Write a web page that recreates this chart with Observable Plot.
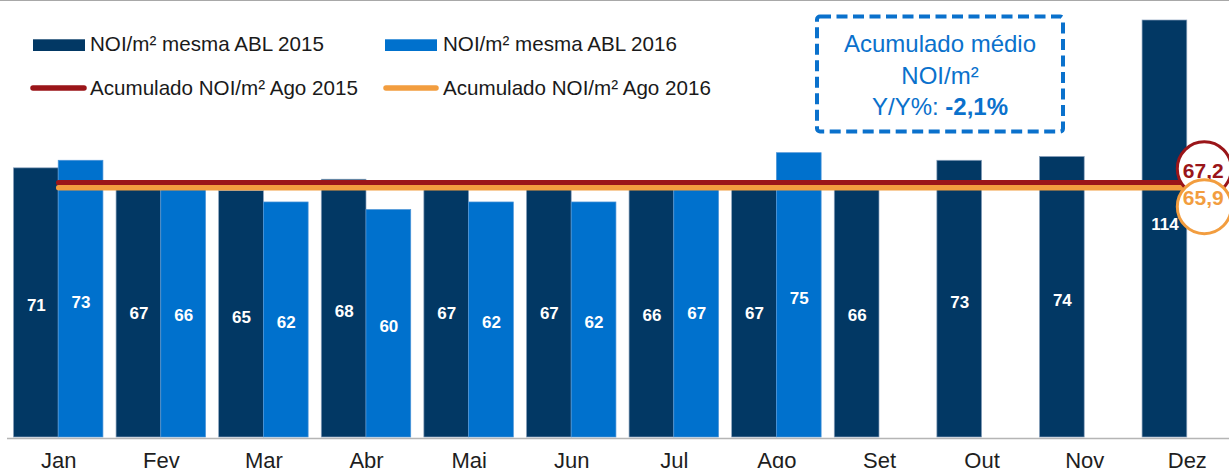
<!DOCTYPE html>
<html>
<head>
<meta charset="utf-8">
<script src="https://cdn.jsdelivr.net/npm/d3@7"></script>
<script src="https://cdn.jsdelivr.net/npm/@observablehq/plot@0.6"></script>
<style>
  html, body { margin: 0; padding: 0; background: #fff; overflow: hidden; }
  #wrap { position: relative; width: 1229px; height: 468px; overflow: hidden;
          font-family: "Liberation Sans", Arial, Helvetica, sans-serif; }
  #topline { position: absolute; left: 0; top: 0; width: 1229px; height: 1px; background: #a8a8a8; }
  #overlay { position: absolute; left: 0; top: 0; pointer-events: none; }
</style>
</head>
<body>
<div id="wrap"><div id="topline"></div></div>
<script>
// ---- data ----
const months = ["Jan","Fev","Mar","Abr","Mai","Jun","Jul","Ago","Set","Out","Nov","Dez"];
const noi2015 = [71, 67, 65, 68, 67, 67, 66, 67, 66, 73, 74, 114];
const noi2016 = [73, 66, 62, 60, 62, 62, 67, 75, null, null, null, null];
const acum2015 = 67.2;
const acum2016 = 65.9;
const acumLabels = ["67,2", "65,9"];
const legendLabels = ["NOI/m² mesma ABL 2015", "NOI/m² mesma ABL 2016",
                      "Acumulado NOI/m² Ago 2015", "Acumulado NOI/m² Ago 2016"];
const boxLines = ["Acumulado médio", "NOI/m²", "Y/Y%: ", "-2,1%"];

// ---- style ----
const C15 = "#023864", C16 = "#0071cd", CRED = "#9a1519", CORG = "#f29d3f";
const W = 1229, H = 468;
const xRange = [6.9, 1238.1], padIn = 0.128, padOut = 0.064;
const step = (xRange[1] - xRange[0]) / (months.length - padIn + 2 * padOut);
const half = step * (1 - padIn) / 2;

const d15 = months.map((m, i) => ({m, v: noi2015[i]}));
const d16 = months.map((m, i) => ({m, v: noi2016[i]})).filter(d => d.v != null);
const line15 = [{m: months[0], v: acum2015}, {m: months[months.length - 1], v: acum2015}];
const line16 = [{m: months[0], v: acum2016}, {m: months[months.length - 1], v: acum2016}];
const circ15 = [{m: months[months.length - 1], v: acum2015, t: acumLabels[0]}];
const circ16 = [{m: months[months.length - 1], v: acum2016, t: acumLabels[1]}];

const chart = Plot.plot({
  width: W, height: H,
  marginTop: 20, marginBottom: 31, marginLeft: 7, marginRight: 0,
  style: {fontFamily: '"Liberation Sans", Arial, Helvetica, sans-serif', background: "transparent", overflow: "hidden"},
  x: {domain: months, range: xRange, paddingInner: padIn, paddingOuter: padOut, round: false, label: null},
  y: {domain: [0, 110], clamp: true, axis: null, label: null},
  marks: [
    Plot.barY(d15, {x: "m", y: "v", fill: C15, insetRight: half, stroke: "#8aa2bd", strokeWidth: 0.7}),
    Plot.barY(d16, {x: "m", y: "v", fill: C16, insetLeft: half, stroke: "#4d95d8", strokeWidth: 0.7}),
    Plot.ruleY([0], {stroke: "#b5b5b5", strokeWidth: 1.4, dy: 1}),
    Plot.text(d15, {x: "m", y: d => d.v / 2, text: d => String(d.v), dx: -half / 2, dy: 3,
      fill: "white", fontSize: 17, fontWeight: "bold"}),
    Plot.text(d16, {x: "m", y: d => d.v / 2, text: d => String(d.v), dx: half / 2, dy: 3,
      fill: "white", fontSize: 17, fontWeight: "bold"}),
    Plot.lineY(line15, {x: "m", y: "v", stroke: CRED, strokeWidth: 5.5, strokeLinecap: "round"}),
    Plot.lineY(line16, {x: "m", y: "v", stroke: CORG, strokeWidth: 5.5, strokeLinecap: "round"}),
    Plot.dot(circ15, {x: "m", y: "v", r: 27, fill: "white", stroke: CRED, strokeWidth: 3, dx: 17, dy: -14}),
    Plot.text(circ15, {x: "m", y: "v", text: "t", fill: CRED, fontSize: 21, fontWeight: "bold", dx: 16, dy: -11}),
    Plot.dot(circ16, {x: "m", y: "v", r: 27, fill: "white", stroke: CORG, strokeWidth: 3, dx: 17, dy: 19}),
    Plot.text(circ16, {x: "m", y: "v", text: "t", fill: CORG, fontSize: 21, fontWeight: "bold", dx: 16, dy: 11}),
    Plot.axisX({tickSize: 0, tickPadding: 15, fontSize: 22, fill: "#1e1e1e", label: null})
  ]
});
const wrap = document.getElementById("wrap");
wrap.insertBefore(chart, wrap.firstChild);

// ---- legend + annotation box overlay ----
const ov = d3.select(wrap).append("svg").attr("id", "overlay").attr("width", W).attr("height", H)
  .style("font-family", '"Liberation Sans", Arial, Helvetica, sans-serif');

// legend
ov.append("rect").attr("x", 33).attr("y", 39.3).attr("width", 52).attr("height", 11.7).attr("fill", C15);
ov.append("rect").attr("x", 385).attr("y", 39.3).attr("width", 52).attr("height", 11.7).attr("fill", C16);
ov.append("line").attr("x1", 33).attr("x2", 84).attr("y1", 88).attr("y2", 88)
  .attr("stroke", CRED).attr("stroke-width", 5.5).attr("stroke-linecap", "round");
ov.append("line").attr("x1", 386).attr("x2", 436).attr("y1", 88).attr("y2", 88)
  .attr("stroke", CORG).attr("stroke-width", 5.5).attr("stroke-linecap", "round");
const lg = [[90, 51], [443, 51], [90, 95], [443, 95]];
legendLabels.forEach((t, i) => {
  ov.append("text").attr("x", lg[i][0]).attr("y", lg[i][1]).attr("font-size", 20.6)
    .attr("fill", "#1a1a1a").text(t);
});

// dashed box
ov.append("rect").attr("x", 817).attr("y", 16.5).attr("width", 246).attr("height", 115)
  .attr("rx", 3).attr("fill", "white").attr("stroke", "#0a71cc").attr("stroke-width", 4)
  .attr("stroke-dasharray", "11 5.5");
ov.append("text").attr("x", 940).attr("y", 52).attr("text-anchor", "middle").attr("font-size", 24)
  .attr("fill", "#0a71cc").text(boxLines[0]);
ov.append("text").attr("x", 940).attr("y", 83.5).attr("text-anchor", "middle").attr("font-size", 24)
  .attr("fill", "#0a71cc").text(boxLines[1]);
const t3 = ov.append("text").attr("x", 940).attr("y", 115).attr("text-anchor", "middle").attr("font-size", 24)
  .attr("fill", "#0a71cc");
t3.append("tspan").text(boxLines[2]);
t3.append("tspan").attr("font-weight", "bold").text(boxLines[3]);
</script>
</body>
</html>
